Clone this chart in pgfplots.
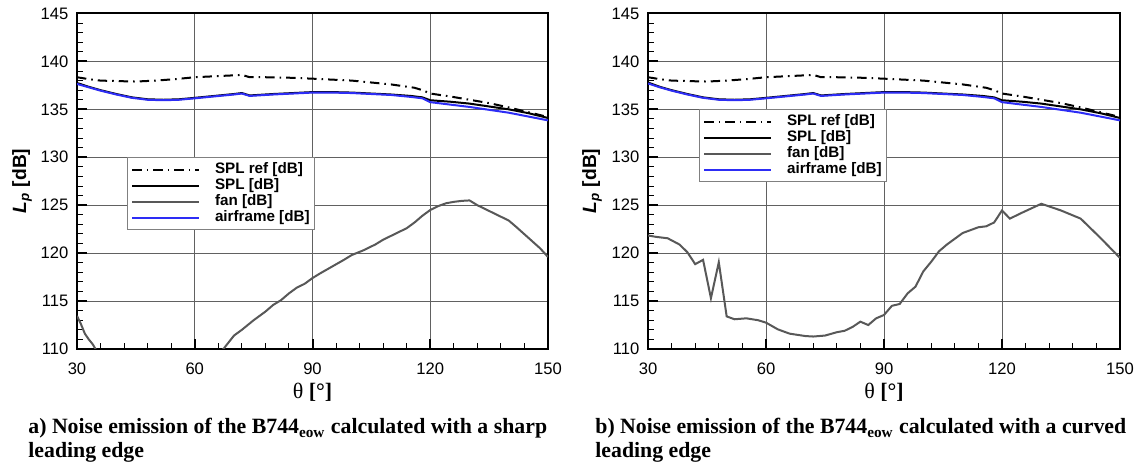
\documentclass[border=0pt]{standalone}
\usepackage{fontspec}
\setmainfont{Liberation Serif}
\setsansfont{Liberation Sans}
\usepackage{pgfplots}
\pgfplotsset{compat=1.18}
\definecolor{afblue}{RGB}{45,45,245}
\definecolor{fangray}{RGB}{88,88,88}
\pgfplotsset{
  myaxis/.style={
    scale only axis,
    width=#1, height=167.75pt,
    xmin=30, xmax=150, ymin=110, ymax=145,
    xtick={30,60,90,120,150}, ytick={110,115,...,145},
    minor x tick num=4, minor y tick num=4,
    tick pos=left, tick align=inside,
    major tick length=5pt, minor tick length=3pt,
    every major tick/.append style={line width=1pt, black},
    every minor tick/.append style={line width=0.5pt, black},
    axis line style={line width=1pt},
    grid=major,
    major grid style={black!62, line width=0.5pt},
    /pgf/number format/assume math mode=true,
    tick label style={font=\sffamily\fontsize{8.3}{9}\selectfont},
    xticklabel style={yshift=-3.2pt},
    yticklabel style={xshift=-0.8pt},
    legend cell align=left,
    legend image code/.code={\draw[##1](0pt,0pt)--(33.5pt,0pt);},
    legend style={font=\sffamily\bfseries\fontsize{7.6}{8}\selectfont,
      draw=black!50, line width=0.5pt, inner xsep=2pt, inner ysep=2pt,
      nodes={inner xsep=0.3pt, inner ysep=0.4pt, text height=5.6pt, text depth=1.6pt},
      /tikz/every odd column/.append style={column sep=7pt}},
  },
  refsty/.style={black, line width=1pt, dash pattern=on 4.7pt off 2.5pt on 0.8pt off 2.5pt},
  splsty/.style={black, line width=1pt},
  fansty/.style={fangray, line width=1pt},
  afsty/.style={afblue, line width=1pt},
}
\begin{document}
\begin{tikzpicture}
\path[use as bounding box] (0,0) rectangle (568.5pt,232pt);
% ---------- left panel ----------
\begin{axis}[myaxis=235.5pt, at={(38.5pt,57.5pt)}, anchor=south west,
  legend style={at={(0.106,0.572)}, anchor=north west}]
\addplot[refsty] coordinates {(30,138.35) (33,138.15) (36,138.0) (40,137.95) (45,137.9) (50,138.0) (55,138.15) (60,138.35) (65,138.45) (70,138.55) (72,138.6) (74,138.35) (78,138.35) (84,138.3) (90,138.2) (95,138.1) (100,138.0) (105,137.8) (110,137.6) (116,137.25) (118,137.0) (120,136.65) (125,136.35) (130,136.0) (135,135.65) (140,135.2) (145,134.7) (150,134.2)};
\addlegendentry{SPL ref [dB]}
\addplot[splsty] coordinates {(30,137.75) (33,137.35) (36,137.0) (40,136.6) (44,136.25) (48,136.05) (52,136.0) (56,136.05) (60,136.2) (65,136.4) (70,136.6) (72,136.7) (74,136.45) (80,136.6) (85,136.7) (90,136.8) (95,136.8) (100,136.75) (105,136.65) (110,136.55) (115,136.4) (118,136.25) (120,135.95) (125,135.8) (130,135.6) (135,135.3) (140,135.0) (145,134.6) (150,134.1)};
\addlegendentry{SPL [dB]}
\addplot[fansty] coordinates {(30,113.45) (31,112.6) (32,111.6) (33,111.0) (34,110.5) (35,109.8) (38,108.6) (40,107.8) (45,106.6) (50,105.9) (55,106.1) (60,107.0) (64,108.6) (67.3,110.0) (70,111.4) (72,112.0) (75,113.0) (78,113.9) (80,114.6) (82,115.1) (84,115.8) (86,116.4) (88,116.8) (90,117.4) (92,117.9) (95,118.6) (98,119.3) (100,119.8) (103,120.3) (106,120.9) (108,121.4) (110,121.8) (112,122.2) (114,122.6) (116,123.2) (118,123.9) (120,124.5) (122,124.9) (124,125.2) (126,125.35) (128,125.45) (130,125.5) (132,125.0) (135,124.4) (138,123.8) (140,123.4) (142,122.7) (145,121.6) (148,120.5) (150,119.6)};
\addlegendentry{fan [dB]}
\addplot[afsty] coordinates {(30,137.65) (33,137.3) (36,136.95) (40,136.55) (44,136.2) (48,136.0) (52,135.95) (56,136.0) (60,136.15) (65,136.35) (70,136.55) (72,136.65) (74,136.4) (80,136.55) (85,136.65) (90,136.75) (95,136.75) (100,136.7) (105,136.6) (110,136.5) (115,136.3) (118,136.15) (120,135.75) (125,135.5) (130,135.25) (135,134.95) (140,134.65) (145,134.25) (150,133.85)};
\addlegendentry{airframe [dB]}
\end{axis}
% ---------- right panel ----------
\begin{axis}[myaxis=236pt, at={(324pt,57.5pt)}, anchor=south west,
  legend style={at={(0.108,0.715)}, anchor=north west}]
\addplot[refsty] coordinates {(30,138.35) (33,138.15) (36,138.0) (40,137.95) (45,137.9) (50,138.0) (55,138.15) (60,138.35) (65,138.45) (70,138.55) (72,138.6) (74,138.35) (78,138.35) (84,138.3) (90,138.2) (95,138.1) (100,138.0) (105,137.8) (110,137.6) (116,137.25) (118,137.0) (120,136.65) (125,136.35) (130,136.0) (135,135.65) (140,135.2) (145,134.7) (150,134.2)};
\addlegendentry{SPL ref [dB]}
\addplot[splsty] coordinates {(30,137.8) (33,137.35) (36,137.0) (40,136.6) (44,136.25) (48,136.05) (52,136.0) (56,136.05) (60,136.2) (65,136.4) (70,136.6) (72,136.7) (74,136.45) (80,136.6) (85,136.7) (90,136.8) (95,136.8) (100,136.75) (105,136.65) (110,136.55) (115,136.4) (118,136.25) (120,135.95) (125,135.8) (130,135.6) (135,135.3) (140,135.0) (145,134.6) (150,134.1)};
\addlegendentry{SPL [dB]}
\addplot[fansty] coordinates {(30,121.84) (32,121.7) (35,121.55) (38,120.9) (40,120.1) (42,118.85) (44,119.3) (46,115.3) (48,119.05) (50,113.4) (52,113.1) (55,113.2) (58,113.0) (60,112.75) (63,112.05) (66,111.6) (70,111.35) (72,111.3) (75,111.4) (78,111.75) (80,111.9) (82,112.3) (84,112.85) (86,112.5) (88,113.2) (90,113.55) (92,114.5) (94,114.7) (96,115.8) (98,116.5) (100,118.1) (102,119.1) (104,120.2) (106,120.9) (110,122.1) (114,122.7) (116,122.8) (118,123.2) (120,124.45) (122,123.6) (125,124.2) (130,125.15) (135,124.45) (140,123.6) (145,121.6) (150,119.5)};
\addlegendentry{fan [dB]}
\addplot[afsty] coordinates {(30,137.7) (33,137.3) (36,136.95) (40,136.55) (44,136.2) (48,136.0) (52,135.95) (56,136.0) (60,136.15) (65,136.35) (70,136.55) (72,136.65) (74,136.4) (80,136.55) (85,136.65) (90,136.75) (95,136.75) (100,136.7) (105,136.6) (110,136.5) (115,136.3) (118,136.15) (120,135.75) (125,135.5) (130,135.25) (135,134.95) (140,134.65) (145,134.25) (150,133.85)};
\addlegendentry{airframe [dB]}
\end{axis}
% ---------- labels ----------
\node[rotate=90, font=\sffamily\bfseries\fontsize{9.6}{10}\selectfont] at (11pt,141.5pt) {\textit{L}\textsubscript{\textit{p}} [dB]};
\node[rotate=90, font=\sffamily\bfseries\fontsize{9.6}{10}\selectfont] at (296pt,141.5pt) {\textit{L}\textsubscript{\textit{p}} [dB]};
\node[font=\fontsize{11}{12}\selectfont] at (156.25pt,36pt) {θ \textbf{[°]}};
\node[font=\fontsize{11}{12}\selectfont] at (442pt,36pt) {θ \textbf{[°]}};
\node[anchor=base west, inner sep=0pt, font=\bfseries\fontsize{10.9}{12}\selectfont] at (14pt,15pt) {a) Noise emission of the B744\textsubscript{eow} calculated with a sharp};
\node[anchor=base west, inner sep=0pt, font=\bfseries\fontsize{10.9}{12}\selectfont] at (14pt,3pt) {leading edge};
\node[anchor=base west, inner sep=0pt, font=\bfseries\fontsize{10.9}{12}\selectfont] at (297.5pt,15pt) {b) Noise emission of the B744\textsubscript{eow} calculated with a curved};
\node[anchor=base west, inner sep=0pt, font=\bfseries\fontsize{10.9}{12}\selectfont] at (297.5pt,3pt) {leading edge};
\end{tikzpicture}
\end{document}
